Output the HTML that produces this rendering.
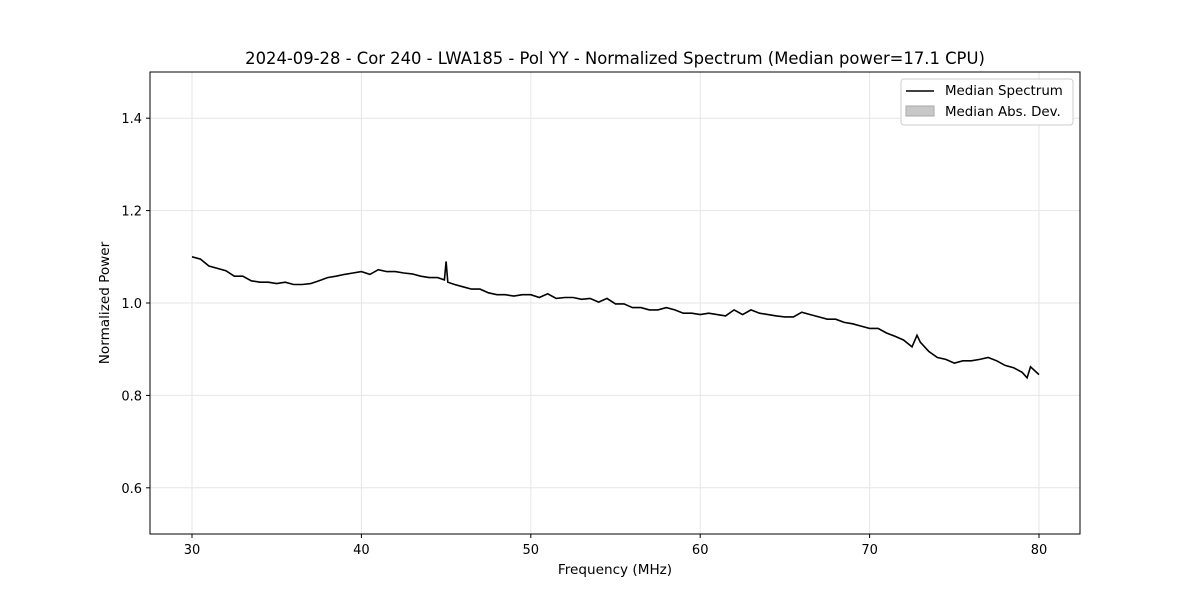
<!DOCTYPE html>
<html><head><meta charset="utf-8"><style>
body{margin:0;background:#fff;}
svg text{font-family:"DejaVu Sans","Liberation Sans",sans-serif;}
</style></head><body>
<svg id="chart" width="1200" height="600" xmlns="http://www.w3.org/2000/svg">
<rect width="1200" height="600" fill="#fff"/>
<text x="615" y="64" font-size="16.4" text-anchor="middle">2024-09-28 - Cor 240 - LWA185 - Pol YY - Normalized Spectrum (Median power=17.1 CPU)</text>
<g id="grid"></g><g id="ticks"></g>
<path id="line" fill="none" stroke="#000" stroke-width="1.6"/>
<rect x="150" y="72" width="930" height="462" fill="none" stroke="#000" stroke-width="1"/>
<text x="615" y="574" font-size="13.6" text-anchor="middle">Frequency (MHz)</text>
<text x="109" y="303" font-size="13.6" text-anchor="middle" transform="rotate(-90 109 303)">Normalized Power</text>
<g>
<rect x="901" y="79" width="172" height="46" fill="#fff" stroke="#ccc" rx="3"/>
<line x1="906" y1="91" x2="934" y2="91" stroke="#000" stroke-width="1.6"/>
<text x="945" y="95" font-size="13.4">Median Spectrum</text>
<rect x="906" y="106" width="28" height="10" fill="#c8c8c8" stroke="#aaa"/>
<text x="945" y="116" font-size="13.4">Median Abs. Dev.</text>
</g>
</svg>
<script>
const freqs=[30,30.5,31,31.5,32,32.5,33,33.5,34,34.5,35,35.5,36,36.5,37,37.5,38,38.5,39,39.5,40,40.5,41,41.5,42,42.5,43,43.5,44,44.5,44.9,45,45.1,45.5,46,46.5,47,47.5,48,48.5,49,49.5,50,50.5,51,51.5,52,52.5,53,53.5,54,54.5,55,55.5,56,56.5,57,57.5,58,58.5,59,59.5,60,60.5,61,61.5,62,62.5,63,63.5,64,64.5,65,65.5,66,66.5,67,67.5,68,68.5,69,69.5,70,70.5,71,71.5,72,72.5,72.8,73,73.5,74,74.5,75,75.5,76,76.5,77,77.5,78,78.5,79,79.3,79.5,80];
const power=[1.10,1.095,1.08,1.075,1.07,1.058,1.058,1.048,1.045,1.045,1.042,1.045,1.04,1.04,1.042,1.048,1.055,1.058,1.062,1.065,1.068,1.062,1.072,1.068,1.068,1.065,1.063,1.058,1.055,1.055,1.05,1.09,1.045,1.04,1.035,1.03,1.03,1.022,1.018,1.018,1.015,1.018,1.018,1.012,1.02,1.01,1.012,1.012,1.008,1.01,1.002,1.01,0.998,0.998,0.99,0.99,0.985,0.985,0.99,0.985,0.978,0.978,0.975,0.978,0.975,0.972,0.985,0.975,0.985,0.978,0.975,0.972,0.97,0.97,0.98,0.975,0.97,0.965,0.965,0.958,0.955,0.95,0.945,0.945,0.935,0.928,0.92,0.905,0.93,0.915,0.895,0.882,0.878,0.87,0.875,0.875,0.878,0.882,0.875,0.865,0.86,0.85,0.838,0.862,0.845];
const xTicks=[30,40,50,60,70,80];
const yTicks=[0.6,0.8,1.0,1.2,1.4];
const X=f=>192+(f-30)*16.94;
const Y=v=>72+(1.5-v)*462;
const NS="http://www.w3.org/2000/svg";
const grid=document.getElementById('grid'),ticks=document.getElementById('ticks');
function mk(tag,attrs,parent){const e=document.createElementNS(NS,tag);for(const k in attrs)e.setAttribute(k,attrs[k]);parent.appendChild(e);return e;}
xTicks.forEach(t=>{const x=X(t);
 const g=mk('line',{x1:x,x2:x,y1:72,y2:534,stroke:'#e6e6e6'},grid);
 
 
 mk('line',{x1:x,x2:x,y1:534,y2:538,stroke:'#000'},ticks);
 const l=mk('text',{x:x,y:554,'font-size':13,'text-anchor':'middle'},ticks);l.textContent=t;
 
 
});
yTicks.forEach(t=>{const y=Y(t);
 const g=mk('line',{x1:150,x2:1080,y1:y,y2:y,stroke:'#e6e6e6'},grid);
 
 
 mk('line',{x1:146,x2:150,y1:y,y2:y,stroke:'#000'},ticks);
 const l=mk('text',{x:142,y:y+5,'font-size':13,'text-anchor':'end'},ticks);l.textContent=t.toFixed(1);
 
 
});
document.getElementById('line').setAttribute('d',freqs.map((f,i)=>(i?'L':'M')+X(f).toFixed(1)+' '+Y(power[i]).toFixed(1)).join(' '));
</script>
</body></html>
